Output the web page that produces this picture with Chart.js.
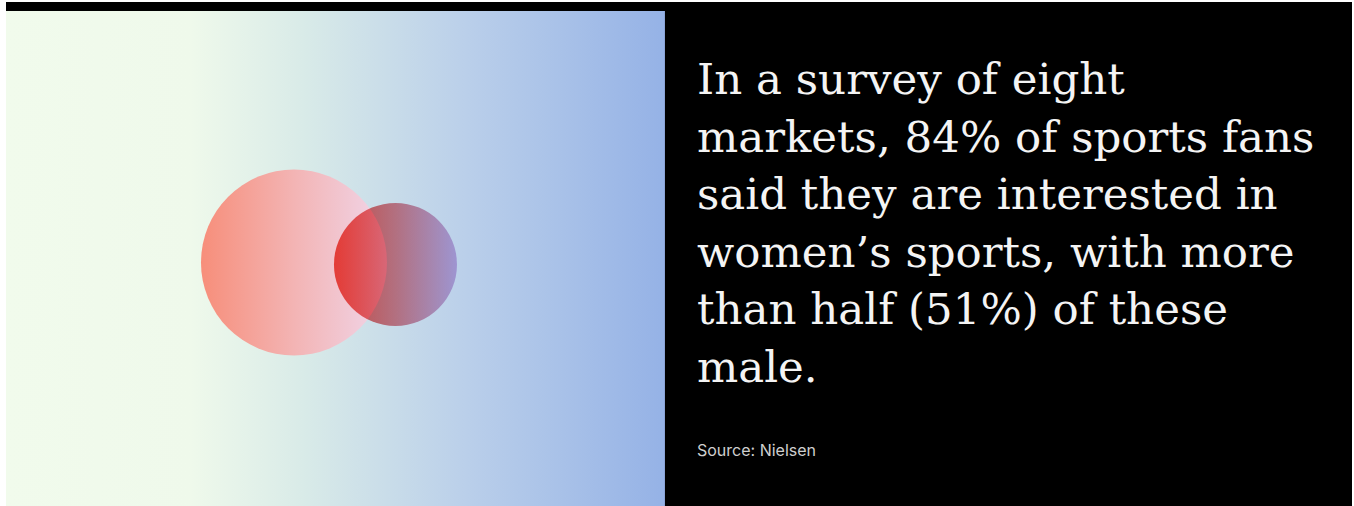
<!DOCTYPE html>
<html>
<head>
<meta charset="utf-8">
<script src="https://cdn.jsdelivr.net/npm/chart.js@4.4.0/dist/chart.umd.min.js"></script>
<style>
  html, body { margin: 0; padding: 0; background: #fff; }
  #frame {
    position: absolute; left: 6px; top: 2px; width: 1346px; height: 504px;
    background: #000; overflow: hidden;
  }
  #myCanvas { position: absolute; left: 0; top: 9px; }
  #headline {
    position: absolute; left: 691px; top: 49px;
    font-family: "DejaVu Serif", serif; font-size: 43.5px; line-height: 57.6px;
    color: #f4f4f4; white-space: nowrap;
  }
  #source {
    position: absolute; left: 691px; top: 438px;
    font-family: Inter, "Noto Sans", sans-serif; font-size: 16px;
    color: #cfcfcf;
  }
</style>
</head>
<body>
<div id="frame">
  <canvas id="myCanvas" width="659" height="495"></canvas>
  <div id="headline">In a survey of eight<br>markets, 84% of sports fans<br>said they are interested in<br>women’s sports, with more<br>than half (51%) of these<br>male.</div>
  <div id="source">Source: Nielsen</div>
</div>
<script>
// groups shown as overlapping circles
const groups = ["Sports fans interested in women's sports", "Of these, male"];
const shares = [84, 51];
// circle centres on a 0-100 grid and radii
const centreX = [43.7, 59.1];
const centreY = [49.2, 48.8];
const radii = [93, 61.5];

const canvas = document.getElementById("myCanvas");
const ctx = canvas.getContext("2d");

// fill colours, left edge to right edge of each circle
const fills = [
    ["rgb(247,142,122)", "rgb(243,180,180)", "rgb(240,214,234)"],
    ["rgb(240,78,68)", "rgb(228,130,140)", "rgb(214,182,228)"]
];

function circleGradient(context) {
    const chart = context.chart;
    if (!chart.chartArea || context.type !== "data") return fills[context.datasetIndex][0];
    const i = context.datasetIndex;
    const x = chart.scales.x.getPixelForValue(centreX[i]);
    const r = radii[i];
    const g = chart.ctx.createLinearGradient(x - r, 0, x + r, 0);
    g.addColorStop(0, fills[i][0]);
    g.addColorStop(0.5, fills[i][1]);
    g.addColorStop(1, fills[i][2]);
    return g;
}

const backdrop = {
    id: "backdrop",
    beforeDraw(chart) {
        const c = chart.ctx;
        const g = c.createLinearGradient(0, 0, chart.width, 0);
        g.addColorStop(0, "#f1fbec");
        g.addColorStop(0.28, "#eff9eb");
        g.addColorStop(0.45, "#d9ebe8");
        g.addColorStop(0.7, "#bacfea");
        g.addColorStop(1, "#95b2e6");
        c.save();
        c.fillStyle = g;
        c.fillRect(0, 0, chart.width, chart.height);
        c.fillStyle = "#8aa3d6";
        c.fillRect(chart.width - 1, 0, 1, chart.height);
        c.restore();
    },
    beforeDatasetDraw(chart, args) {
        chart.ctx.save();
        if (args.index === 1) chart.ctx.globalCompositeOperation = "multiply";
    },
    afterDatasetDraw(chart) {
        chart.ctx.restore();
    }
};

var chart = new Chart(ctx, {
    type: "bubble",
    data: {
        labels: groups,
        datasets: groups.map((name, i) => ({
            label: name + " (" + shares[i] + "%)",
            data: [{ x: centreX[i], y: centreY[i], r: radii[i] }],
            backgroundColor: circleGradient,
            borderWidth: 0,
            order: 2 - i
        }))
    },
    options: {
        responsive: false,
        animation: false,
        events: [],
        layout: { padding: 0, autoPadding: false },
        scales: {
            x: { display: false, min: 0, max: 100 },
            y: { display: false, min: 0, max: 100 }
        },
        plugins: {
            legend: { display: false },
            tooltip: { enabled: false }
        }
    },
    plugins: [backdrop]
});
</script>
</body>
</html>
